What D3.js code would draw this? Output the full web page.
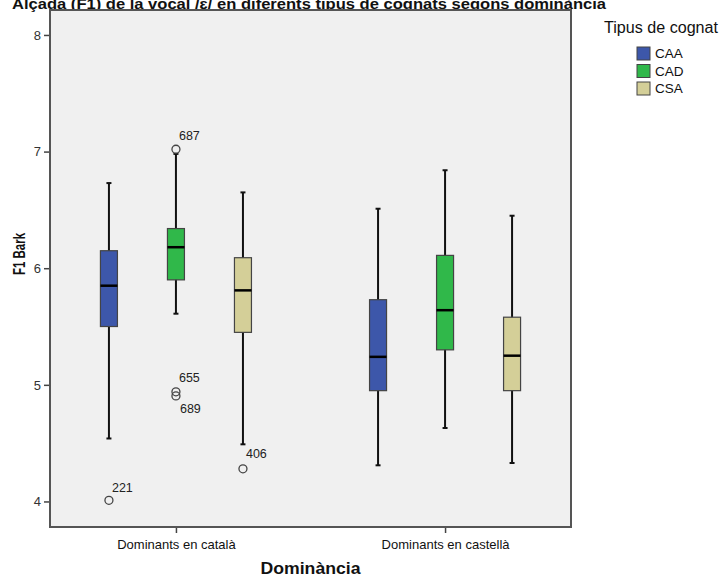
<!DOCTYPE html>
<html>
<head>
<meta charset="utf-8">
<script src="https://cdn.jsdelivr.net/npm/d3@7"></script>
<style>
  html, body { margin: 0; padding: 0; background: #fff; }
  svg { display: block; font-family: "Liberation Sans", Arial, sans-serif; }
</style>
</head>
<body>
<svg id="chart" width="720" height="576"></svg>
<script>
// Groups on the x axis and cognate types within each group
const groups = ["Dominants en català", "Dominants en castellà"];
const types = ["CAA", "CAD", "CSA"];
const typeColors = ["#3d57aa", "#30b84a", "#d4cf98"];

// Box statistics per group (rows) and type (columns), F1 in Bark
const whiskerLow  = [[4.54, 5.61, 4.49], [4.31, 4.63, 4.33]];
const q1          = [[5.50, 5.90, 5.45], [4.95, 5.30, 4.95]];
const medians     = [[5.85, 6.18, 5.81], [5.24, 5.64, 5.25]];
const q3          = [[6.15, 6.34, 6.09], [5.73, 6.11, 5.58]];
const whiskerHigh = [[6.73, 6.98, 6.65], [6.51, 6.84, 6.45]];

// Labelled outliers: group index, type index, value, case id
const outlierGroup = [0, 0, 0, 0, 0];
const outlierType  = [0, 1, 1, 1, 2];
const outlierValue = [4.01, 7.02, 4.94, 4.905, 4.28];
const outlierId    = ["221", "687", "655", "689", "406"];

const yTicks = [4, 5, 6, 7, 8];

const svg = d3.select("#chart");
const plot = { left: 50, right: 571, top: 10, bottom: 527 };

const x0 = d3.scalePoint().domain(groups).range([plot.left, plot.right]).padding(0.468);
const step = x0.step();
const x1 = d3.scalePoint().domain(types).range([-step * 0.249, step * 0.249]);
const y = d3.scaleLinear().domain([3.781, 8.214]).range([plot.bottom, plot.top]);
const color = d3.scaleOrdinal().domain(types).range(typeColors);

// Title (runs up against the top edge of the page)
svg.append("text")
  .attr("x", 12).attr("y", 9)
  .attr("font-size", 15).attr("font-weight", "bold").attr("fill", "#111")
  .attr("textLength", 594).attr("lengthAdjust", "spacingAndGlyphs")
  .text("Alçada (F1) de la vocal /ɛ/ en diferents tipus de cognats segons dominància");

// Plot background
svg.append("rect")
  .attr("x", plot.left).attr("y", plot.top)
  .attr("width", plot.right - plot.left).attr("height", plot.bottom - plot.top)
  .attr("fill", "#f0f0f0");

// Axes
const yAxis = svg.append("g")
  .attr("transform", `translate(${plot.left},0)`)
  .call(d3.axisLeft(y).tickValues(yTicks).tickFormat(d3.format("d")).tickSize(6).tickSizeOuter(0));
yAxis.select(".domain").remove();
yAxis.selectAll(".tick line").attr("stroke", "#444").attr("stroke-width", 1.5);
yAxis.selectAll(".tick text").attr("font-size", 13).attr("fill", "#333")
  .attr("font-family", "Liberation Sans, Arial, sans-serif").attr("x", -9);

const xAxis = svg.append("g")
  .attr("transform", `translate(0,${plot.bottom})`)
  .call(d3.axisBottom(x0).tickSize(6).tickSizeOuter(0));
xAxis.select(".domain").remove();
xAxis.selectAll(".tick line").attr("stroke", "#444").attr("stroke-width", 1.5);
xAxis.selectAll(".tick text").attr("font-size", 13).attr("fill", "#111")
  .attr("font-family", "Liberation Sans, Arial, sans-serif").attr("y", 13);

// Frame
svg.append("rect")
  .attr("x", plot.left).attr("y", plot.top)
  .attr("width", plot.right - plot.left).attr("height", plot.bottom - plot.top)
  .attr("fill", "none").attr("stroke", "#555").attr("stroke-width", 2);

// Axis titles
svg.append("text")
  .attr("transform", `translate(25,254) rotate(-90)`)
  .attr("text-anchor", "middle").attr("font-size", 16).attr("font-weight", "bold").attr("fill", "#111")
  .attr("textLength", 42).attr("lengthAdjust", "spacingAndGlyphs")
  .text("F1 Bark");
svg.append("text")
  .attr("x", (plot.left + plot.right) / 2).attr("y", 574)
  .attr("text-anchor", "middle").attr("font-size", 16).attr("font-weight", "bold").attr("fill", "#111")
  .attr("textLength", 100).attr("lengthAdjust", "spacingAndGlyphs")
  .text("Dominància");

// Boxes
const boxW = 17, capW = 5;
const boxes = [];
groups.forEach((g, gi) => types.forEach((t, ti) => boxes.push({
  g, t, lo: whiskerLow[gi][ti], q1: q1[gi][ti], med: medians[gi][ti], q3: q3[gi][ti], hi: whiskerHigh[gi][ti]
})));

const bx = svg.append("g").selectAll("g").data(boxes).join("g")
  .attr("transform", d => `translate(${x0(d.g) + x1(d.t)},0)`);

bx.append("line").attr("x1", 0).attr("x2", 0)
  .attr("y1", d => y(d.hi)).attr("y2", d => y(d.lo))
  .attr("stroke", "#111").attr("stroke-width", 2);
bx.append("line").attr("x1", -capW / 2).attr("x2", capW / 2)
  .attr("y1", d => y(d.hi)).attr("y2", d => y(d.hi))
  .attr("stroke", "#111").attr("stroke-width", 2);
bx.append("line").attr("x1", -capW / 2).attr("x2", capW / 2)
  .attr("y1", d => y(d.lo)).attr("y2", d => y(d.lo))
  .attr("stroke", "#111").attr("stroke-width", 2);
bx.append("rect")
  .attr("x", -boxW / 2).attr("width", boxW)
  .attr("y", d => y(d.q3)).attr("height", d => y(d.q1) - y(d.q3))
  .attr("fill", d => color(d.t)).attr("stroke", "#444").attr("stroke-width", 1.2);
bx.append("line").attr("x1", -boxW / 2).attr("x2", boxW / 2)
  .attr("y1", d => y(d.med)).attr("y2", d => y(d.med))
  .attr("stroke", "#000").attr("stroke-width", 2.5);

// Outliers with case labels
const outliers = outlierValue.map((v, i) => ({
  g: groups[outlierGroup[i]], t: types[outlierType[i]], v, id: outlierId[i]
}));
// label vertical offsets: 689 sits below its point, the others above
const labelDy = { "221": -13, "687": -14, "655": -14, "689": 13, "406": -15 };
const og = svg.append("g").selectAll("g").data(outliers).join("g")
  .attr("transform", d => `translate(${x0(d.g) + x1(d.t)},${y(d.v)})`);
og.append("circle").attr("r", 4).attr("fill", "none").attr("stroke", "#444").attr("stroke-width", 1.3);
og.append("text")
  .attr("x", d => d.id === "689" ? 4 : 3).attr("y", d => labelDy[d.id])
  .attr("dy", "0.35em").attr("font-size", 12.5).attr("fill", "#222")
  .text(d => d.id);

// Legend
const legend = svg.append("g");
legend.append("text").attr("x", 604).attr("y", 33)
  .attr("font-size", 16).attr("fill", "#111")
  .attr("textLength", 114).attr("lengthAdjust", "spacingAndGlyphs")
  .text("Tipus de cognat");
const li = legend.selectAll("g").data(types).join("g")
  .attr("transform", (d, i) => `translate(637,${47 + i * 17.5})`);
li.append("rect").attr("width", 13).attr("height", 13)
  .attr("fill", d => color(d)).attr("stroke", "#444").attr("stroke-width", 1);
li.append("text").attr("x", 18).attr("y", 6.5).attr("dy", "0.35em")
  .attr("font-size", 13.5).attr("fill", "#111").text(d => d);
</script>
</body>
</html>
